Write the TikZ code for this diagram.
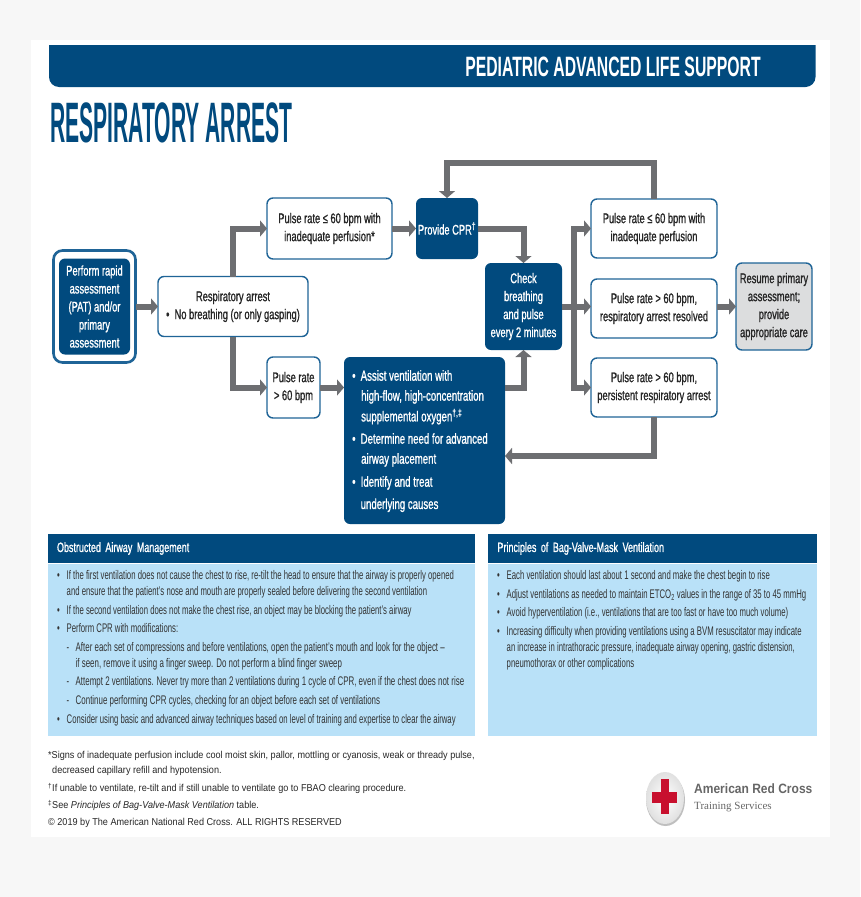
\documentclass[tikz,border=0pt]{standalone}
\usepackage{fontspec}
\usepackage{tikz}
\usetikzlibrary{arrows.meta,positioning,fit}
\setmainfont{Liberation Sans}
\newfontfamily\boxfont[FakeStretch=0.665,FakeBold=1]{Liberation Sans}
\newfontfamily\panelfont[FakeStretch=0.62]{Liberation Sans}
\newfontfamily\subfont[FakeStretch=0.635]{Liberation Sans}
\newfontfamily\notefont[FakeStretch=0.91]{Liberation Sans}
\newfontfamily\bannerfont[FakeStretch=0.563]{Liberation Sans Bold}
\newfontfamily\titlefont[FakeStretch=0.37]{Liberation Sans Bold}
\newfontfamily\logofont[FakeStretch=0.89]{Liberation Sans Bold}
\newfontfamily\logoserif{Liberation Serif}
\definecolor{capsnavy}{HTML}{014A7E}
\definecolor{flowgray}{HTML}{6D6E71}
\definecolor{edgeblue}{HTML}{1F6497}
\definecolor{panelsky}{HTML}{B9E1F8}
\definecolor{restgray}{HTML}{DCDDDE}
\definecolor{pagegray}{HTML}{F7F7F7}
\definecolor{inkdark}{HTML}{333333}
\definecolor{crossred}{HTML}{C8102E}
\newcommand{\bul}{\makebox[9.5pt][l]{•}}
\newcommand{\hang}{\hspace*{9.5pt}}
\newcommand{\dsh}{\hspace*{9.5pt}\makebox[9pt][l]{-}\subfont}
\begin{document}
\begin{tikzpicture}[
    x=1pt, y=-1pt,
    font=\boxfont\fontsize{14}{18}\selectfont,
    box/.style={rounded corners=6pt, inner sep=0pt, outer sep=0pt, align=center},
    whitebox/.style={box, draw=edgeblue, line width=1.4pt, fill=white, text=black!85},
    navybox/.style={box, fill=capsnavy, text=white},
    restbox/.style={whitebox, fill=restgray},
    panelhead/.style={fill=capsnavy, text=white, anchor=west, inner sep=0pt, outer sep=0pt, font=\boxfont\fontsize{13.5}{18}\selectfont},
    panelbody/.style={fill=panelsky, inner sep=0pt, outer sep=0pt},
    paneltext/.style={font=\panelfont\fontsize{12.5}{16}\selectfont, text=inkdark, anchor=north west, align=left, inner sep=0pt},
    notetext/.style={font=\notefont\fontsize{10}{15}\selectfont, text=black!85, anchor=north west, align=left, inner sep=0pt},
    flow/.style={draw=flowgray, line width=6pt, -{Triangle[length=7pt,width=16pt]}}
]
  \fill[pagegray] (0,0) rectangle (860,897);
  \fill[white] (31,40) rectangle (829.5,837);

  % heading
  \fill[capsnavy] (49,45) -- (815.5,45) [rounded corners=10pt] -- (815.5,87) -- (49,87) [sharp corners] -- cycle;
  \node[font=\bannerfont\fontsize{28}{28}\selectfont, text=white, anchor=center, inner sep=0pt] (support) at (613,67) {PEDIATRIC ADVANCED LIFE SUPPORT};
  \node[font=\titlefont\fontsize{57}{57}\selectfont, text=capsnavy, anchor=base west, inner sep=0pt] (title) at (50,142) {RESPIRATORY ARREST};

  % flow boxes
  \node[navybox, minimum width=71pt, minimum height=96pt] (assess) at (94.5,306.5) {Perform rapid\\assessment\\(PAT) and/or\\primary\\assessment};
  \node[draw=edgeblue, line width=2.6pt, rounded corners=9pt, inner xsep=5.5pt, inner ysep=8pt, outer sep=0pt, fit=(assess)] (assessframe) {};
  \node[whitebox, minimum width=150pt, minimum height=60pt, right=22.5pt of assessframe] (resp) {Respiratory arrest\\•\ \ No breathing (or only gasping)};
  \node[whitebox, minimum width=125pt, minimum height=61pt] (pulselow) at (329.5,228.5) {Pulse rate ≤ 60 bpm with\\inadequate perfusion*};
  \node[navybox, minimum width=62pt, minimum height=61pt, right=24pt of pulselow] (cpr) {Provide CPR\textsuperscript{†}};
  \node[whitebox, minimum width=53pt, minimum height=61pt] (pulsehigh) at (293.5,387.5) {Pulse rate\\> 60 bpm};
  \node[navybox, anchor=north west, minimum width=161pt, minimum height=167pt] (assist) at (344,357) {};
  \node[navybox, minimum width=77pt, minimum height=87pt] (check) at (523.5,306.5) {Check\\breathing\\and pulse\\every 2 minutes};
  \node[whitebox, minimum width=126pt, minimum height=59pt] (rlow) at (654,228.5) {Pulse rate ≤ 60 bpm with\\inadequate perfusion};
  \node[whitebox, minimum width=126pt, minimum height=59pt] (rgood) at (654,308.5) {Pulse rate > 60 bpm,\\respiratory arrest resolved};
  \node[whitebox, minimum width=126pt, minimum height=59pt] (rbad) at (654,387.5) {Pulse rate > 60 bpm,\\persistent respiratory arrest};
  \node[restbox, minimum width=76pt, minimum height=87pt] (resume) at (774,306.5) {Resume primary\\assessment;\\provide\\appropriate care};

  \node[text=white, anchor=north west, align=left, inner sep=0pt, font=\boxfont\fontsize{14.5}{20}\selectfont] (assisttext) at (352,370) {\makebox[8.5pt][l]{•}Assist ventilation with\\\hspace*{9pt}high-flow, high-concentration\\[0.7pt]\hspace*{9pt}supplemental oxygen\textsuperscript{†,‡}\\[2.3pt]\makebox[8.5pt][l]{•}Determine need for advanced\\\hspace*{9pt}airway placement\\[3pt]\makebox[8.5pt][l]{•}Identify and treat\\[2.3pt]\hspace*{8.5pt}underlying causes};

  % connectors
  \coordinate (junc) at (574,306.5);
  \coordinate (backin) at (505,456);
  \draw[flow] (assessframe.east) -- (resp.west);
  \draw[flow] (resp.north) |- (pulselow.west);
  \draw[flow] (resp.south) |- (pulsehigh.west);
  \draw[flow] (pulselow.east) -- (cpr.west);
  \draw[flow] (pulsehigh.east) -- (assist.west |- pulsehigh.east);
  \draw[flow] (cpr.east) -| (check.north);
  \draw[flow] (assist.east |- rbad.west) -| (check.south);
  \draw[flow] (check.east) -- (rgood.west |- check.east);
  \draw[flow] (junc) |- (rlow.west);
  \draw[flow] (junc) |- (rbad.west);
  \draw[flow] (rgood.east |- resume.west) -- (resume.west);
  \draw[flow] (rlow.north) -- ++(0,-36) -| (cpr.north);
  \draw[flow] (rbad.south) |- (backin);

  % panels
  \node[panelhead, minimum height=29pt, text width=427.5pt] (obshead) at (47.5,548.5) {\hspace*{9.5pt}Obstructed Airway Management};
  \node[panelbody, anchor=north west, minimum width=427.5pt, minimum height=172pt] (obsbody) at (47.5,564) {};
  \node[paneltext] (obstext) at (57,570.5) {\bul If the first ventilation does not cause the chest to rise, re-tilt the head to ensure that the airway is properly opened\\\hang and ensure that the patient’s nose and mouth are properly sealed before delivering the second ventilation\\[2.55pt]\bul If the second ventilation does not make the chest rise, an object may be blocking the patient’s airway\\[2.55pt]\bul Perform CPR with modifications:\\[2.55pt]\dsh After each set of compressions and before ventilations, open the patient’s mouth and look for the object –\\\hspace*{18.5pt}{\subfont if seen, remove it using a finger sweep. Do not perform a blind finger sweep}\\[2.55pt]\dsh Attempt 2 ventilations. Never try more than 2 ventilations during 1 cycle of CPR, even if the chest does not rise\\[2.55pt]\dsh Continue performing CPR cycles, checking for an object before each set of ventilations\\[2.55pt]\bul Consider using basic and advanced airway techniques based on level of training and expertise to clear the airway};

  \node[panelhead, minimum height=29pt, text width=329pt] (bvmhead) at (488,548.5) {\hspace*{9.5pt}Principles of Bag-Valve-Mask Ventilation};
  \node[panelbody, anchor=north west, minimum width=329pt, minimum height=172pt] (bvmbody) at (488,564) {};
  \node[paneltext] (bvmtext) at (497,570.5) {\bul Each ventilation should last about 1 second and make the chest begin to rise\\[2.55pt]\bul Adjust ventilations as needed to maintain ETCO\textsubscript{2} values in the range of 35 to 45 mmHg\\[2.55pt]\bul Avoid hyperventilation (i.e., ventilations that are too fast or have too much volume)\\[2.55pt]\bul Increasing difficulty when providing ventilations using a BVM resuscitator may indicate\\\hang an increase in intrathoracic pressure, inadequate airway opening, gastric distension,\\\hang pneumothorax or other complications};

  % notes
  \node[notetext] (notes) at (48,751.5) {*Signs of inadequate perfusion include cool moist skin, pallor, mottling or cyanosis, weak or thready pulse,\\\hspace*{4pt}decreased capillary refill and hypotension.\\[3pt]\textsuperscript{†}If unable to ventilate, re-tilt and if still unable to ventilate go to FBAO clearing procedure.\\[2pt]\textsuperscript{‡}See \textit{Principles of Bag-Valve-Mask Ventilation} table.\\[2pt]© 2019 by The American National Red Cross. ALL RIGHTS RESERVED};

  % logo
  \fill[black!25] (665.5,800) ellipse [x radius=19.5pt, y radius=26pt];
  \shade[inner color=white, outer color=black!12] (665,798) ellipse [x radius=19pt, y radius=26pt];
  \fill[crossred] (660.5,779) rectangle (668.5,814);
  \fill[crossred] (652,792) rectangle (677,803);
  \node[font=\logofont\fontsize{13.5}{14}\selectfont, text=black!60, anchor=west, inner sep=0pt] (logoname) at (694,789) {American Red Cross};
  \node[font=\logoserif\fontsize{11}{12}\selectfont, text=black!60, anchor=west, inner sep=0pt] (logosub) at (694,807) {Training Services};
\end{tikzpicture}
\end{document}
